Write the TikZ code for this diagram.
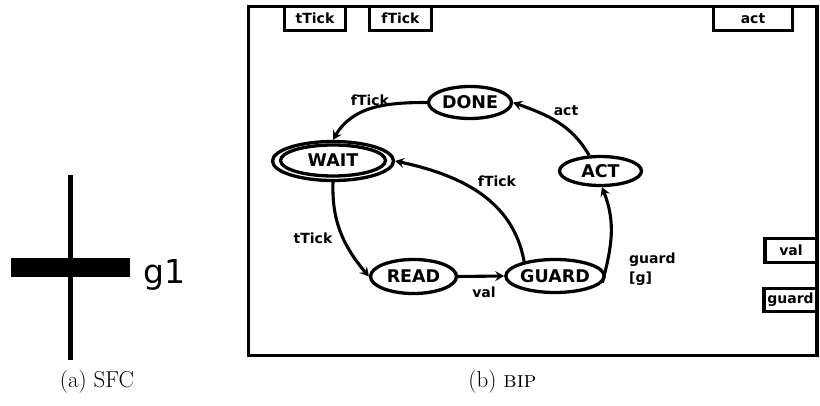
\documentclass[tikz,border=0pt]{standalone}
\usepackage{fontspec}
\newfontfamily\djv{DejaVu Sans}
\usetikzlibrary{shapes.geometric,arrows.meta}
\begin{document}
\begin{tikzpicture}[x=1pt,y=1pt,
  state/.style={draw, ellipse, line width=3.3pt, inner sep=0pt,
    font=\djv\bfseries\fontsize{17.5}{20}\selectfont},
  port/.style={draw, rectangle, line width=3.3pt, inner sep=0pt,
    font=\djv\bfseries\fontsize{14}{16}\selectfont},
  lbl/.style={font=\djv\bfseries\fontsize{14}{19}\selectfont, inner sep=0pt},
  trans/.style={line width=3.1pt, -{Stealth[length=9pt,width=10pt,inset=3.5pt]}},
  captext/.style={font=\fontsize{23}{28}\selectfont, inner sep=0pt}]
\useasboundingbox (0,0) rectangle (820,-406);
% (a) SFC
\draw[line width=5pt] (70,-175) -- (70,-360);
\fill (11,-258) rectangle (130,-277);
\node[anchor=base west, font=\djv\fontsize{33}{36}\selectfont, inner sep=0pt] (g1) at (143,-284) {g1};
\node[captext] (capa) at (97,-382) {(a) SFC};
% (b) BIP
\node[port, minimum width=61pt, minimum height=24pt] (ptTick) at (315,-18.5) {tTick};
\node[port, minimum width=62pt, minimum height=24pt] (pfTick) at (400.5,-18.5) {fTick};
\node[port, minimum width=79pt, minimum height=24pt] (pact) at (753,-18.5) {act};
\node[port, minimum width=52pt, minimum height=24pt] (pval) at (791,-250.5) {val};
\node[port, minimum width=53pt, minimum height=23pt] (pguard) at (790.5,-300) {guard};
\draw[line width=3.8pt] (248.5,-6.5) rectangle (817,-355.5);
% states
\node[state, minimum width=83pt, minimum height=32pt] (DONE) at (470,-102.5) {DONE};
\node[state, minimum width=121pt, minimum height=39pt] (WAIT) at (333,-161) {};
\node[state, minimum width=105pt, minimum height=31pt] (WAITin) at (333,-160.5) {WAIT};
\node[state, minimum width=86pt, minimum height=34pt] (READ) at (413.5,-276.5) {READ};
\node[state, minimum width=85pt, minimum height=33pt] (GUARD) at (555,-276) {GUARD};
\node[state, minimum width=82pt, minimum height=29pt] (ACT) at (600.5,-171) {ACT};
% transitions
\draw[trans] (DONE.west) to[out=180,in=60] (WAIT.north);
\draw[trans] (ACT.126) to[out=120,in=-20] (DONE.east);
\draw[trans] (GUARD.155) to[out=100,in=-12] (WAIT.east);
\draw[trans] (WAIT.south) to[out=-92,in=130] (READ.west);
\draw[trans] (READ.east) -- (GUARD.west);
\draw[trans] (GUARD.-8) to[out=75,in=-68] (ACT.-85);
% labels
\node[lbl] (lfTick1) at (370,-100) {fTick};
\node[lbl] (lact) at (566,-111) {act};
\node[lbl] (lfTick2) at (497,-181) {fTick};
\node[lbl] (ltTick) at (313,-238) {tTick};
\node[lbl] (lval) at (484,-292) {val};
\node[lbl, align=left, anchor=west] (lguard) at (629,-269.5) {guard\\{}[g]};
\node[captext] (capb) at (502.5,-382) {(b) \textsc{bip}};
\end{tikzpicture}
\end{document}
